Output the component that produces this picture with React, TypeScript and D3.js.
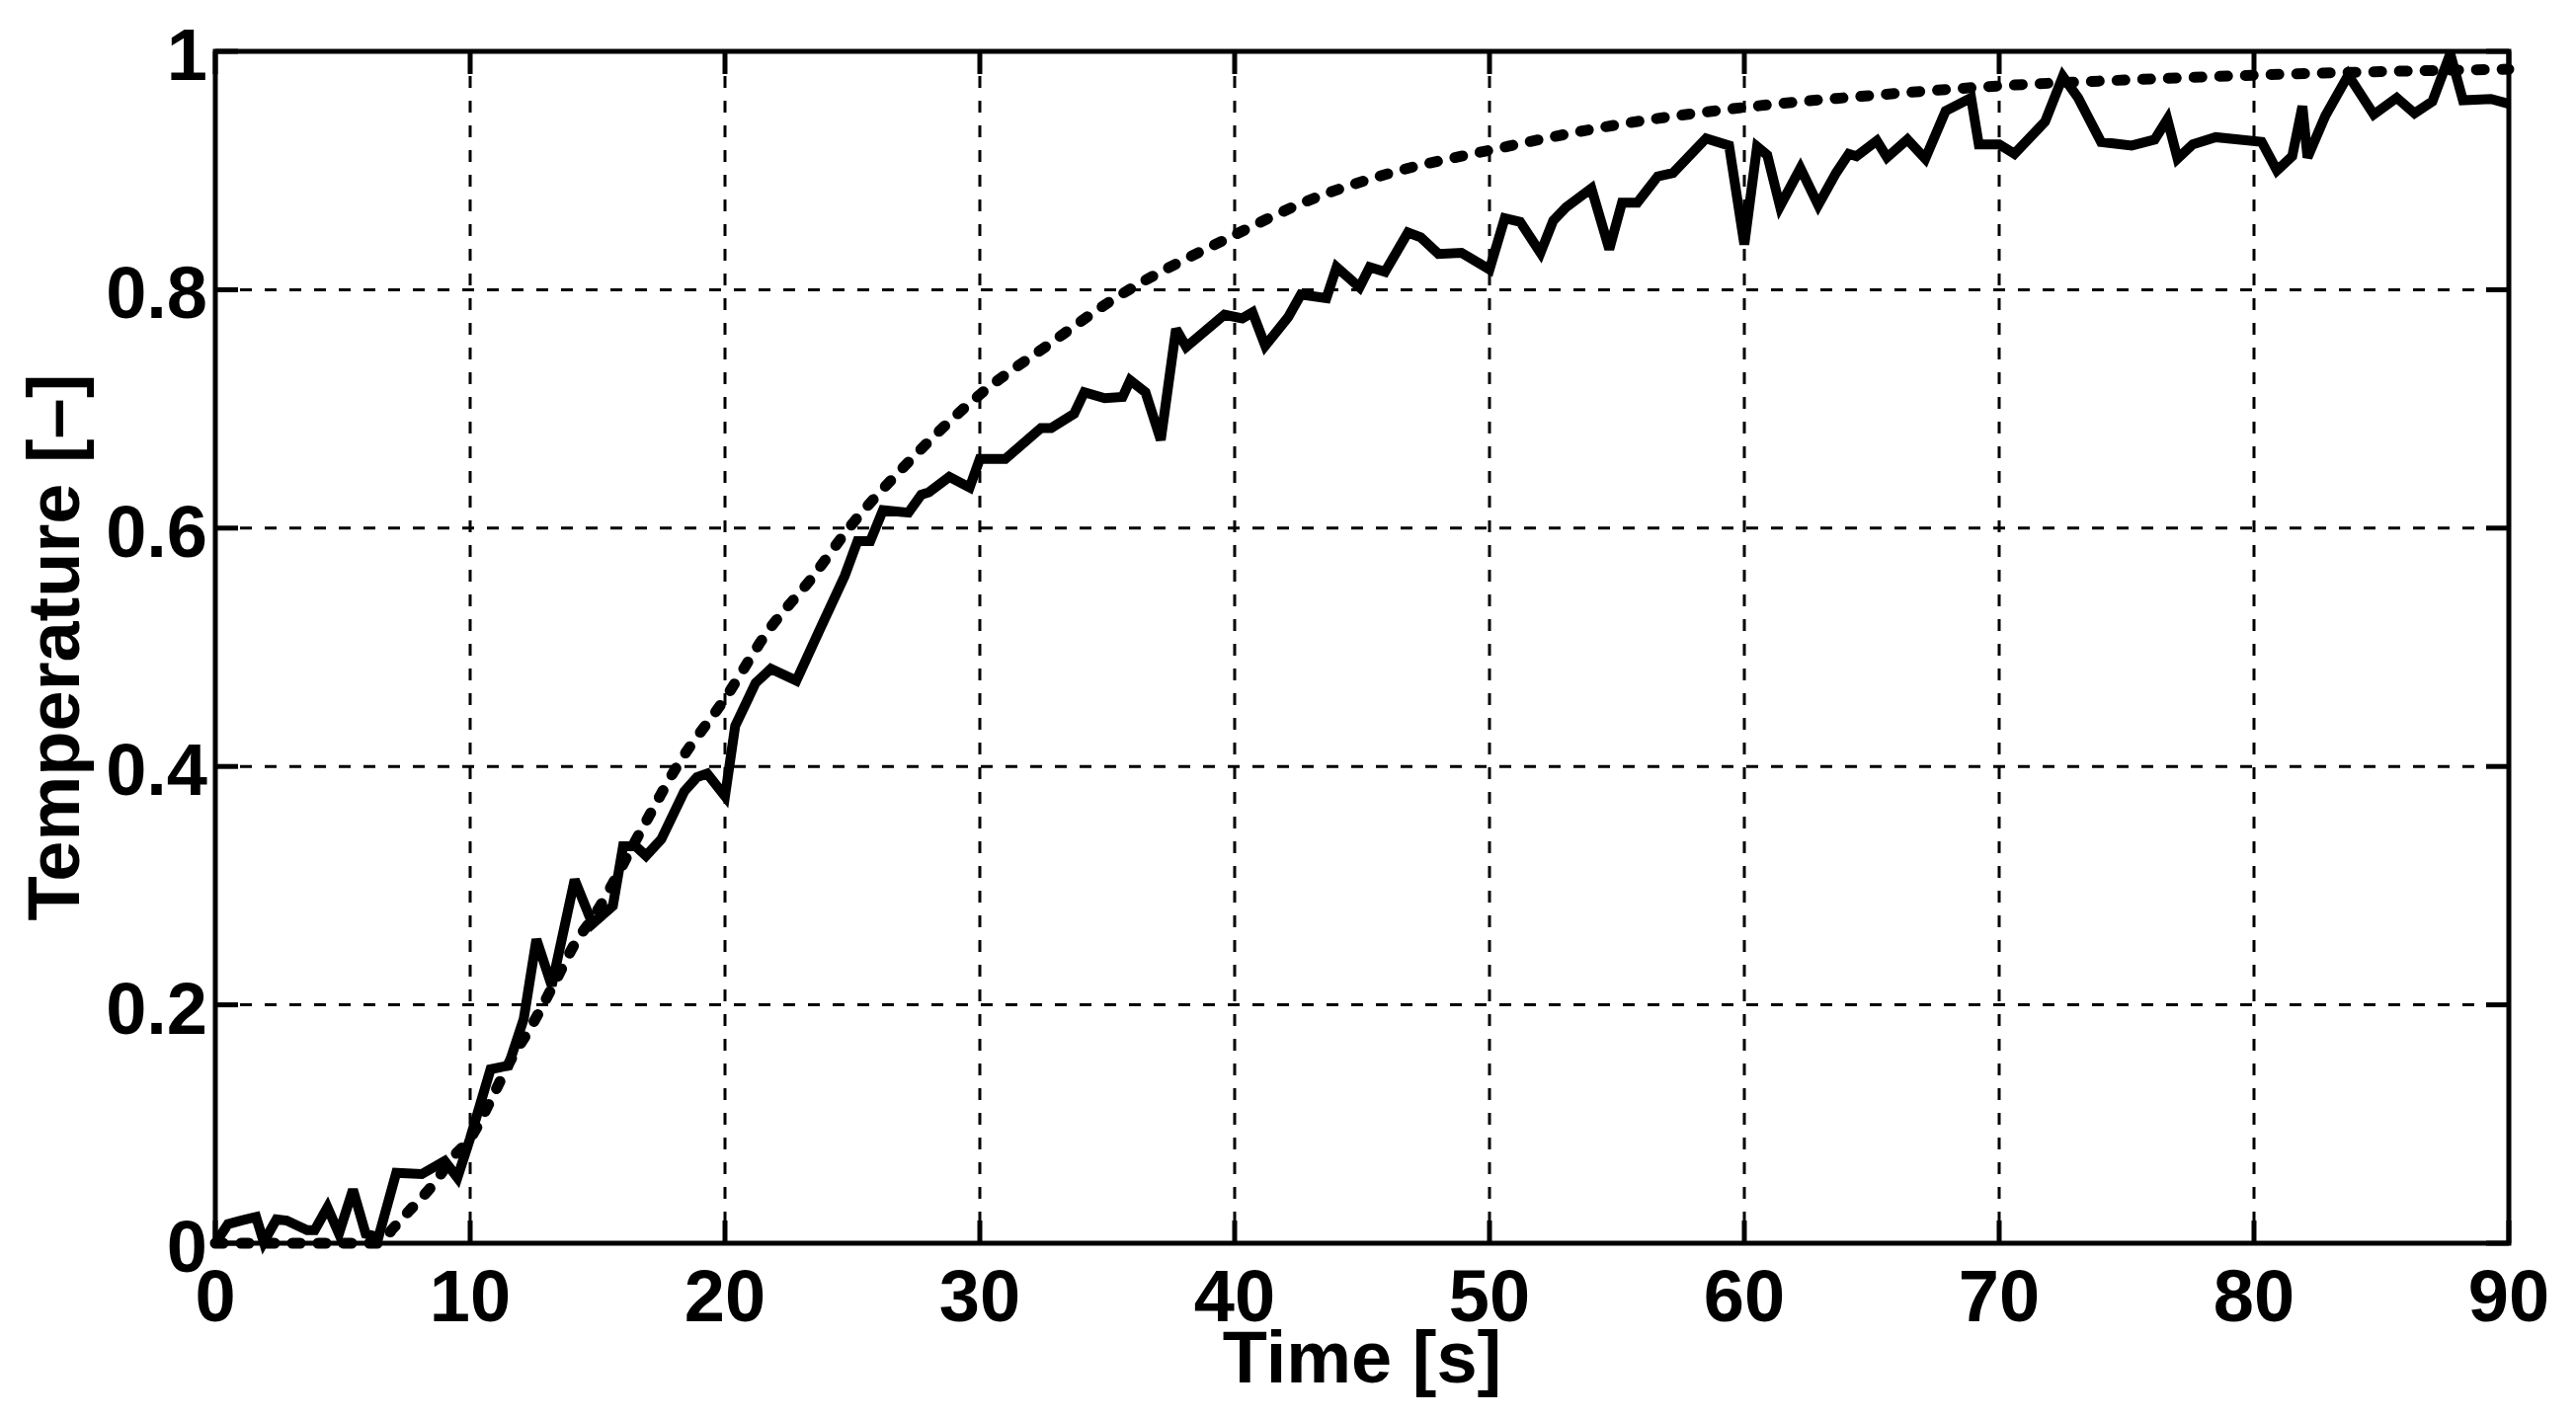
import React from "react";
import * as d3 from "d3";

// Measured series (solid line)
const measuredTime = [
  0, 0.5, 1.0, 1.6, 1.9, 2.4, 2.8, 3.6, 3.9, 4.4, 4.85, 5.4, 5.9, 6.4, 7.1, 8.1, 9.0, 9.5,
  10.0, 10.8, 11.5, 12.1, 12.6, 13.2, 14.1, 14.8, 15.6, 16.0, 16.5, 16.9, 17.5, 18.4, 18.9,
  19.3, 20.0, 20.4, 21.2, 21.8, 22.8, 23.7, 24.7, 25.2, 25.7, 26.2, 27.2, 27.7, 28.0, 28.8,
  29.6, 30.0, 31.0, 32.4, 32.8, 33.7, 34.1, 34.9, 35.6, 35.9, 36.5, 37.1, 37.7, 38.1, 39.6,
  40.3, 40.7, 41.2, 42.1, 42.6, 43.6, 44.0, 44.9, 45.3, 45.9, 46.8, 47.3, 48.0, 48.9, 50.0,
  50.6, 51.2, 52.0, 52.5, 53.0, 54.0, 54.7, 55.2, 55.8, 56.6, 57.2, 58.5, 59.4, 60.0, 60.5,
  60.9, 61.4, 62.2, 62.9, 63.6, 64.1, 64.4, 65.2, 65.6, 66.4, 67.1, 67.9, 68.9, 69.2, 70.0,
  70.6, 71.8, 72.5, 73.1, 74.0, 75.2, 76.1, 76.6, 77.0, 77.6, 78.5, 80.3, 80.9, 81.5, 81.9,
  82.1, 82.8, 83.7, 84.7, 85.6, 86.3, 87.0, 87.7, 88.2, 89.3, 90.0,
];
const measuredTemp = [
  0.0, 0.016, 0.019, 0.022, 0.001, 0.02, 0.019, 0.011, 0.011, 0.03, 0.008, 0.045, 0.008, 0.005,
  0.059, 0.058, 0.069, 0.055, 0.088, 0.146, 0.149, 0.188, 0.255, 0.216, 0.305, 0.268, 0.283,
  0.333, 0.333, 0.325, 0.339, 0.379, 0.391, 0.394, 0.375, 0.434, 0.47, 0.482, 0.472, 0.514,
  0.56, 0.589, 0.589, 0.615, 0.613, 0.628, 0.63, 0.643, 0.634, 0.658, 0.658, 0.684, 0.684,
  0.696, 0.714, 0.709, 0.71, 0.724, 0.714, 0.674, 0.767, 0.752, 0.779, 0.776, 0.781, 0.753,
  0.777, 0.796, 0.793, 0.819, 0.802, 0.819, 0.815, 0.848, 0.844, 0.83, 0.831, 0.817, 0.86,
  0.857, 0.831, 0.858, 0.869, 0.885, 0.834, 0.873, 0.873, 0.895, 0.898, 0.927, 0.921, 0.838,
  0.92, 0.913, 0.87, 0.902, 0.871, 0.898, 0.914, 0.912, 0.925, 0.911, 0.926, 0.91, 0.95,
  0.961, 0.922, 0.922, 0.914, 0.941, 0.979, 0.961, 0.924, 0.921, 0.926, 0.943, 0.91, 0.922,
  0.928, 0.924, 0.9, 0.912, 0.954, 0.911, 0.946, 0.98, 0.947, 0.961, 0.948, 0.958, 0.998,
  0.959, 0.96, 0.956,
];

// Model series (dotted line)
const modelTime = [
  0, 6.4, 7.0, 7.6, 8.5, 9.4, 10, 10.9, 11.6, 12.4, 13.3, 14.1, 14.9, 16.7, 18.2, 20, 21.7,
  23.4, 24.9, 27.0, 30, 32.7, 35.1, 40, 42.8, 46.3, 50, 54.9, 60, 65, 70, 75, 80, 85, 90,
];
const modelTemp = [
  0, 0, 0.013, 0.027, 0.048, 0.074, 0.088, 0.124, 0.154, 0.182, 0.218, 0.251, 0.276, 0.346,
  0.403, 0.457, 0.514, 0.558, 0.601, 0.651, 0.712, 0.754, 0.79, 0.846, 0.874, 0.899, 0.917,
  0.938, 0.953, 0.963, 0.971, 0.976, 0.98, 0.983, 0.985,
];

const xTicks = [0, 10, 20, 30, 40, 50, 60, 70, 80, 90];
const yTicks = [0, 0.2, 0.4, 0.6, 0.8, 1];
const xLabel = "Time [s]";
const yLabel = "Temperature [–]";

const W = 2608;
const H = 1436;
const L = 218, R = 2540, T = 52, B = 1259;
const FONT = "'Liberation Sans', Arial, Helvetica, sans-serif";
const FS = 74;

export default function App() {
  const x = d3.scaleLinear().domain([0, 90]).range([L, R]);
  const y = d3.scaleLinear().domain([0, 1]).range([B, T]);

  const measured = measuredTime.map((t, i) => [t, measuredTemp[i]] as [number, number]);
  const model = modelTime.map((t, i) => [t, modelTemp[i]] as [number, number]);

  const solidLine = d3
    .line<[number, number]>()
    .x((d) => x(d[0]))
    .y((d) => y(d[1]));
  const smoothLine = d3
    .line<[number, number]>()
    .x((d) => x(d[0]))
    .y((d) => y(d[1]))
    .curve(d3.curveMonotoneX);

  const tickLen = 23;
  const fmt = (v: number) => (v === 0 ? "0" : v === 1 ? "1" : d3.format(".1f")(v));

  return (
    <svg
      width={W}
      height={H}
      style={{ position: "absolute", left: 0, top: 0, background: "#fff" }}
    >
      <rect x={0} y={0} width={W} height={H} fill="#fff" />
      {/* grid */}
      <g stroke="#000" strokeWidth={3} strokeDasharray="12 13">
        {xTicks.slice(1, -1).map((t) => (
          <line key={"gx" + t} x1={x(t)} x2={x(t)} y1={T} y2={B} />
        ))}
        {yTicks.slice(1, -1).map((t) => (
          <line key={"gy" + t} x1={L} x2={R} y1={y(t)} y2={y(t)} />
        ))}
      </g>
      {/* data */}
      <path
        d={smoothLine(model) || ""}
        fill="none"
        stroke="#000"
        strokeWidth={11}
        strokeDasharray="8 18"
        strokeLinecap="round"
      />
      <path
        d={solidLine(measured) || ""}
        fill="none"
        stroke="#000"
        strokeWidth={10}
        strokeLinejoin="miter"
        strokeMiterlimit={3}
      />
      {/* ticks */}
      <g stroke="#000" strokeWidth={5}>
        {xTicks.map((t) => (
          <g key={"tx" + t}>
            <line x1={x(t)} x2={x(t)} y1={B} y2={B - tickLen} />
            <line x1={x(t)} x2={x(t)} y1={T} y2={T + tickLen} />
          </g>
        ))}
        {yTicks.map((t) => (
          <g key={"ty" + t}>
            <line x1={L} x2={L + tickLen} y1={y(t)} y2={y(t)} />
            <line x1={R} x2={R - tickLen} y1={y(t)} y2={y(t)} />
          </g>
        ))}
      </g>
      {/* box */}
      <rect x={L} y={T} width={R - L} height={B - T} fill="none" stroke="#000" strokeWidth={5} />
      {/* tick labels */}
      <g fontFamily={FONT} fontWeight="bold" fontSize={FS} fill="#000">
        {xTicks.map((t) => (
          <text key={"lx" + t} x={x(t)} y={B + 79} textAnchor="middle">
            {t}
          </text>
        ))}
        {yTicks.map((t) => (
          <text key={"ly" + t} x={L - 8} y={y(t) + 29} textAnchor="end">
            {fmt(t)}
          </text>
        ))}
        <text x={(L + R) / 2} y={1400} textAnchor="middle">
          {xLabel}
        </text>
        <text
          transform={`translate(80, ${(T + B) / 2}) rotate(-90)`}
          textAnchor="middle"
        >
          {yLabel}
        </text>
      </g>
    </svg>
  );
}
